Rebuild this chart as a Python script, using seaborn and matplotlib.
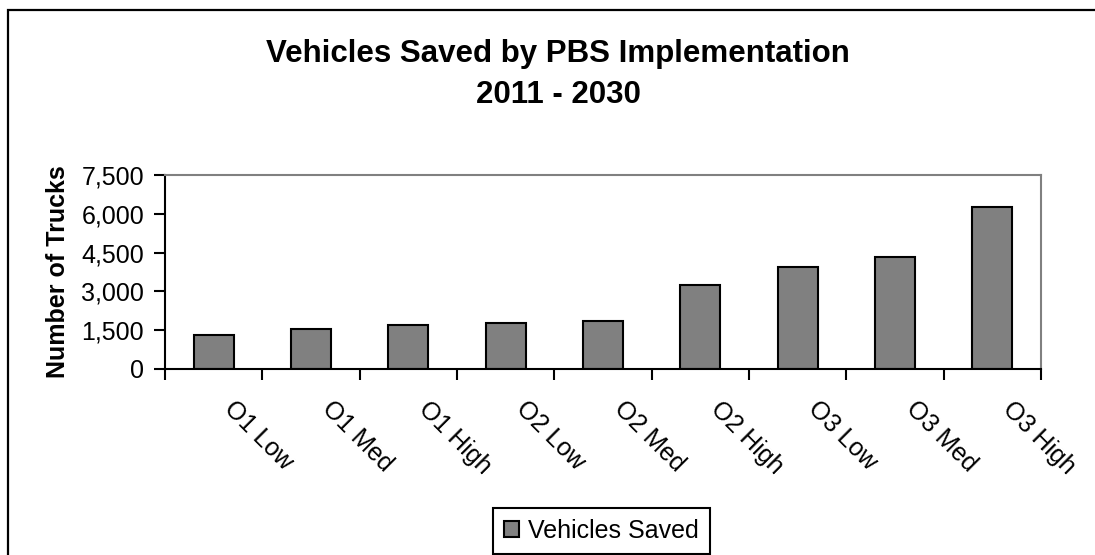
import matplotlib
matplotlib.use("Agg")
import matplotlib.pyplot as plt
import matplotlib.transforms as mtransforms
import seaborn as sns
import pandas as pd
from matplotlib.patches import Rectangle
from matplotlib.ticker import FuncFormatter, FixedLocator

categories = ["O1 Low", "O1 Med", "O1 High", "O2 Low", "O2 Med", "O2 High", "O3 Low", "O3 Med", "O3 High"]
vehicles_saved = [1326, 1546, 1707, 1790, 1856, 3247, 3943, 4330, 6263]
series_name = "Vehicles Saved"
y_ticks = [0, 1500, 3000, 4500, 6000, 7500]

sns.set_theme(style="white")
plt.rcParams['font.family'] = ['Liberation Sans', 'DejaVu Sans']
plt.rcParams['text.color'] = 'black'
plt.rcParams['axes.labelcolor'] = 'black'
plt.rcParams['xtick.color'] = 'black'
plt.rcParams['ytick.color'] = 'black'

df = pd.DataFrame({"category": categories, "value": vehicles_saved, "series": series_name})

W, H = 1095, 555
fig = plt.figure(figsize=(W / 100, H / 100), dpi=100)
fig.patch.set_facecolor("white")
ax = fig.add_axes([165 / W, 1 - 369 / H, (1041 - 165) / W, (369 - 175) / H])

sns.barplot(data=df, x="category", y="value", hue="series", palette={series_name: "#808080"},
            order=categories, dodge=False, width=0.41, edgecolor="black", linewidth=1.5,
            saturation=1, ax=ax, legend=True)

ax.set_xlim(-0.5, len(categories) - 0.5)
ax.set_ylim(0, 7500)
ax.yaxis.set_major_locator(FixedLocator(y_ticks))
ax.yaxis.set_major_formatter(FuncFormatter(lambda v, p: f"{int(v):,}"))
ax.tick_params(axis="y", which="major", direction="out", length=8, width=1.5, color="black",
               labelsize=18, pad=7, left=True, labelcolor="black")
ax.set_xticks(range(len(categories)))
ax.set_xticklabels(categories, rotation=-45, ha="left", va="top", rotation_mode="anchor",
                   fontsize=18, color="black")
ax.set_xticks([i - 0.5 for i in range(len(categories) + 1)], minor=True)
ax.tick_params(axis="x", which="major", length=0, pad=20)
ax.tick_params(axis="x", which="minor", direction="out", length=8, width=1.5, color="black", bottom=True)
offset = mtransforms.ScaledTranslation(23 / 100, 0, fig.dpi_scale_trans)
for lbl in ax.get_xticklabels():
    lbl.set_transform(lbl.get_transform() + offset)

ax.set_xlabel("")
ax.set_ylabel("Number of Trucks", fontsize=18, fontweight="bold", labelpad=8, color="black")

for s in ["left", "bottom"]:
    ax.spines[s].set_color("black")
    ax.spines[s].set_linewidth(1.5)
for s in ["top", "right"]:
    ax.spines[s].set_color("#808080")
    ax.spines[s].set_linewidth(1.5)
ax.grid(False)

# Legend
handles, labels = ax.get_legend_handles_labels()
if ax.legend_:
    ax.legend_.remove()
leg = fig.legend(handles, labels, loc="center", bbox_to_anchor=(601 / W, 1 - 531 / H),
                 bbox_transform=fig.transFigure, frameon=True, fancybox=False, framealpha=1,
                 edgecolor="black", fontsize=18, handlelength=0.6, handleheight=0.6,
                 handletextpad=0.35, borderpad=0.45, borderaxespad=0)
leg.get_frame().set_linewidth(1.5)
for t in leg.get_texts():
    t.set_color("black")

# Title
fig.text(558 / W, 1 - 62 / H, "Vehicles Saved by PBS Implementation", ha="center", va="baseline",
         fontsize=22.5, fontweight="bold", color="black")
fig.text(558 / W, 1 - 103 / H, "2011 - 2030", ha="center", va="baseline", fontsize=22.5,
         fontweight="bold", color="black")

# Chart border (cropped on right/bottom)
fig.patches.append(Rectangle((8 / W, -0.2), 1.3, (H - 10) / H + 0.2, transform=fig.transFigure,
                             fill=False, edgecolor="black", linewidth=1.6, figure=fig))

fig.savefig("out.png", dpi=100)
